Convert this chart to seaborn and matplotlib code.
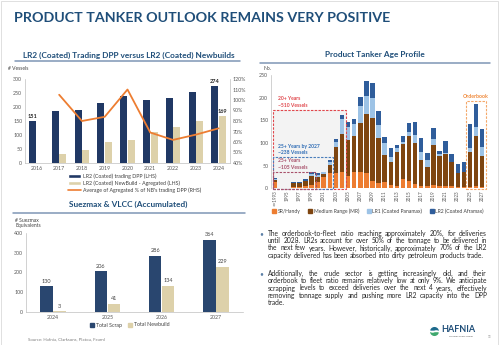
import numpy as np
import pandas as pd
import matplotlib
matplotlib.use("Agg")
import matplotlib.pyplot as plt
import matplotlib.ticker as mticker
from matplotlib.patches import Rectangle, Wedge
from matplotlib.lines import Line2D
import seaborn as sns

sns.set_theme(style="white")
plt.rcParams["font.family"] = ["Lato", "DejaVu Sans"]

# ---- LR2 trading DPP vs newbuilds ------------------------------------------
dpp_years = ["2016", "2017", "2018", "2019", "2020", "2021", "2022", "2023", "2024"]
lr2_trading_dpp = [151, 184, 189, 213, 241, 226, 232, 252, 274]
lr2_newbuild_agg = [0, 32, 48, 74, 81, 111, 129, 150, 169]
ratio_years = ["2017", "2018", "2019", "2020", "2021", "2022", "2023", "2024"]
nb_trading_dpp_pct = [105, 80, 84, 110, 69, 62, 67, 73]

# ---- Suezmax & VLCC accumulated -------------------------------------------
crude_years = ["2024", "2025", "2026", "2027"]
total_scrap = [130, 206, 286, 364]
total_newbuild = [3, 41, 134, 229]

# ---- Product tanker age profile ---------------------------------------------
build_years = ["<=1993", "1994", "1995", "1996", "1997", "1998", "1999", "2000",
               "2001", "2002", "2003", "2004", "2005", "2006", "2007", "2008",
               "2009", "2010", "2011", "2012", "2013", "2014", "2015", "2016",
               "2017", "2018", "2019", "2020", "2021", "2022", "2023", "2024",
               "2025", "2026", "2027"]
sr_handy = [14, 0, 0, 2, 2, 6, 7, 14, 24, 33, 34, 35, 28, 35, 37, 34, 16, 12,
            14, 8, 5, 20, 16, 10, 5, 4, 8, 5, 6, 5, 3, 3, 3, 5, 3]
medium_range = [5, 0, 0, 10, 10, 10, 21, 11, 8, 19, 57, 85, 78, 80, 107, 129,
                139, 98, 59, 49, 74, 77, 99, 91, 57, 44, 88, 67, 69, 52, 30, 34,
                76, 110, 68]
lr1_panamax = [1, 0, 0, 0, 0, 1, 3, 5, 3, 5, 11, 33, 30, 26, 38, 40, 45, 30,
               26, 13, 9, 6, 10, 17, 17, 14, 12, 3, 2, 0, 0, 0, 11, 20, 21]
lr2_aframax = [2, 0, 0, 1, 1, 3, 4, 3, 2, 6, 7, 9, 11, 13, 19, 33, 33, 31,
               15, 18, 8, 12, 20, 29, 33, 15, 26, 7, 27, 19, 21, 20, 52, 50, 38]
age_series = ["SR/Handy", "Medium Range (MR)", "LR1 (Coated Panamax)", "LR2 (Coated Aframax)"]

bullet_1 = ["The orderbook-to-fleet ratio reaching approximately 20%, for deliveries",
            "until 2028. LR2s account for over 50% of the tonnage to be delivered in",
            "the next few years. However, historically, approximately 70% of the LR2",
            "capacity delivered has been absorbed into dirty petroleum products trade."]
bullet_2 = ["Additionally, the crude sector is getting increasingly old, and their",
            "orderbook to fleet ratio remains relatively low at only 9%. We anticipate",
            "scrapping levels to exceed deliveries over the next 4 years, effectively",
            "removing tonnage supply and pushing more LR2 capacity into the DPP",
            "trade."]

# ---- styling ----------------------------------------------------------------
TITLE_BLUE = "#1F4E79"
RULE = "#7F96B5"
NAVY = "#203864"
NAVY2 = "#29466F"
BEIGE = "#DDD1AA"
ORANGE = "#ED7D31"
AGE_COLORS = ["#ED7D31", "#7E4510", "#9DC3E6", "#2F5D9B"]
TICK = "#595959"
SPINE = "#BFBFBF"

W, H = 500, 345
fig = plt.figure(figsize=(5, 3.45), dpi=100)
fig.patch.set_facecolor("white")
renderer = fig.canvas.get_renderer()


def fx(px):
    return px / W


def fy(py):
    return 1 - py / H


def fit_width(t, target_px):
    w = t.get_window_extent(renderer).width
    t.set_fontsize(t.get_fontsize() * target_px / w)
    return t


def rule(x0, x1, y):
    fig.add_artist(Line2D([fx(x0), fx(x1)], [fy(y), fy(y)], color=RULE, lw=1.1))


def style_axis(ax):
    for s in ax.spines.values():
        s.set_visible(False)
    ax.tick_params(labelsize=3.8, colors=TICK, length=0, pad=2)
    ax.set_xlabel("")
    ax.set_ylabel("")


def show_spines(ax, sides):
    for side in sides:
        ax.spines[side].set_visible(True)
        ax.spines[side].set_color(SPINE)
        ax.spines[side].set_linewidth(0.5)


# ---- page title -------------------------------------------------------------
t = fig.text(fx(14), fy(18), "PRODUCT TANKER OUTLOOK REMAINS VERY POSITIVE",
             ha="left", va="center", fontsize=11, weight="bold", color=TITLE_BLUE)
fit_width(t, 376)

# ---- chart 1: LR2 trading DPP vs newbuilds ----------------------------------
t = fig.text(fx(128.5), fy(55), "LR2 (Coated) Trading DPP versus LR2 (Coated) Newbuilds",
             ha="center", va="center", fontsize=6, weight="bold", color=TITLE_BLUE)
fit_width(t, 213)
rule(15, 240, 61)

lab_trd = "LR2 (Coated) trading DPP (LHS)"
lab_nb = "LR2 (Coated) NewBuild - Agregated (LHS)"
lab_pct = "Average of Agregated % of NB's trading DPP (RHS)"

ax1 = fig.add_axes([fx(25), fy(163), fx(205), (163 - 79) / H])
df1 = pd.DataFrame({"Year": dpp_years * 2,
                    "Vessels": lr2_trading_dpp + lr2_newbuild_agg,
                    "Series": [lab_trd] * len(dpp_years) + [lab_nb] * len(dpp_years)})
sns.barplot(data=df1, x="Year", y="Vessels", hue="Series", palette=[NAVY, BEIGE],
            width=0.66, gap=0.06, saturation=1, linewidth=0, legend=False, ax=ax1)
ax1.set_ylim(0, 300)
ax1.set_yticks(range(0, 301, 50))
ax1.set_xlim(-0.5, 8.5)
style_axis(ax1)
show_spines(ax1, ["left", "bottom"])
last = len(dpp_years) - 1
ax1.bar_label(ax1.containers[0],
              labels=[str(v) if i in (0, last) else "" for i, v in enumerate(lr2_trading_dpp)],
              fontsize=4, fontweight="bold", color="#262626", padding=1.5)
ax1.bar_label(ax1.containers[1],
              labels=[str(v) if i == last else "" for i, v in enumerate(lr2_newbuild_agg)],
              fontsize=4, fontweight="bold", color="#262626", padding=1.5)

ax1b = ax1.twinx()
sns.lineplot(x=[dpp_years.index(y) for y in ratio_years],
             y=np.array(nb_trading_dpp_pct) / 100.0,
             color=ORANGE, lw=1.3, ax=ax1b)
ax1b.set_ylim(0.4, 1.2)
ax1b.set_yticks(np.arange(0.4, 1.21, 0.1))
ax1b.yaxis.set_major_formatter(mticker.PercentFormatter(1.0, decimals=0))
ax1b.set_xlim(-0.5, 8.5)
style_axis(ax1b)
show_spines(ax1b, ["right"])

fig.text(fx(8), fy(69), "# Vessels", fontsize=3.6, color="#404040", va="center")

handles = [Rectangle((0, 0), 1, 1, fc=NAVY), Rectangle((0, 0), 1, 1, fc=BEIGE),
           Line2D([], [], color=ORANGE, lw=1.2)]
fig.legend(handles, [lab_trd, lab_nb, lab_pct], loc="upper left",
           bbox_to_anchor=(fx(68), fy(173)), frameon=False, fontsize=3.8,
           handlelength=2.4, handleheight=0.8, handletextpad=0.4,
           labelspacing=0.35, borderpad=0, borderaxespad=0, labelcolor="#404040")

# ---- chart 2: Suezmax & VLCC ------------------------------------------------
t = fig.text(fx(128.5), fy(204), "Suezmax & VLCC (Accumulated)",
             ha="center", va="center", fontsize=6, weight="bold", color=TITLE_BLUE)
fit_width(t, 119)
rule(13, 245, 212.5)

ax3 = fig.add_axes([fx(26), fy(312), fx(217), (312 - 233) / H])
df3 = pd.DataFrame({"Year": crude_years * 2,
                    "Ships": total_scrap + total_newbuild,
                    "Series": ["Total Scrap"] * 4 + ["Total Newbuild"] * 4})
sns.barplot(data=df3, x="Year", y="Ships", hue="Series", palette=[NAVY2, BEIGE],
            width=0.48, gap=0.05, saturation=1, linewidth=0, legend=False, ax=ax3)
ax3.set_ylim(0, 400)
ax3.set_yticks(range(0, 401, 100))
ax3.set_xlim(-0.5, 3.5)
style_axis(ax3)
show_spines(ax3, ["left", "bottom"])
for c in ax3.containers:
    ax3.bar_label(c, fontsize=4, color="#404040", padding=2)

fig.text(fx(15), fy(220), "# Suezmax", fontsize=3.6, color="#404040", va="center")
fig.text(fx(15), fy(226), "Equivalents", fontsize=3.6, color="#404040", va="center")

h3 = [Line2D([], [], marker="s", ls="", color=NAVY2, markersize=2.6),
      Line2D([], [], marker="s", ls="", color=BEIGE, markersize=2.6)]
fig.legend(h3, ["Total Scrap", "Total Newbuild"], loc="center",
           bbox_to_anchor=(fx(130), fy(325)), ncol=2, frameon=False, fontsize=3.8,
           handlelength=0.8, handletextpad=0.3, columnspacing=1.2, borderpad=0,
           labelcolor="#404040")

fig.text(fx(28), fy(339), "Source: Hafnia, Clarksons, Platou, Fearnl",
         fontsize=3.2, color="#808080", va="center")

# ---- chart 3: age profile (stacked via overlaid cumulative totals) ----------
t = fig.text(fx(375), fy(54), "Product Tanker Age Profile",
             ha="center", va="center", fontsize=6, weight="bold", color=TITLE_BLUE)
fit_width(t, 100)
rule(260, 490, 63)

ax2 = fig.add_axes([fx(271), fy(188.3), fx(216), (188.3 - 75) / H])
cum = np.array([sr_handy, medium_range, lr1_panamax, lr2_aframax]).cumsum(axis=0)
n_years = len(build_years)
df2 = pd.DataFrame({
    "Year": build_years * len(age_series),
    "Cumulative": cum.ravel(),
    "Segment": np.repeat(age_series, n_years),
})
draw_order = age_series[::-1]
sns.barplot(data=df2, x="Year", y="Cumulative", hue="Segment", order=build_years,
            hue_order=draw_order, palette=dict(zip(age_series, AGE_COLORS)),
            dodge=False, width=0.74, saturation=1, linewidth=0, legend=False,
            ax=ax2, zorder=2)
ax2.set_ylim(0, 250)
ax2.set_yticks(range(0, 251, 50))
ax2.set_xlim(-0.66, 34.8)
style_axis(ax2)
ax2.set_xticks(range(0, n_years, 2))
ax2.set_xticklabels(build_years[::2], rotation=90, fontsize=3.3)
ax2.tick_params(axis="x", pad=1.5)
show_spines(ax2, ["left"])

# highlighted age groups
dash = (0, (2.2, 1.2))
ax2.add_patch(Rectangle((-0.35, -1), 11.95, 174, fc="#F3F3F3", ec="none", zorder=0,
                        clip_on=False))
ax2.add_patch(Rectangle((-0.35, -1), 11.95, 174, fill=False, ec="#E0474C", lw=0.8,
                        ls=dash, zorder=3, clip_on=False))
ax2.add_patch(Rectangle((-0.35, -1), 9.85, 69, fill=False, ec="#4A7EBB", lw=0.8,
                        ls=dash, zorder=3, clip_on=False))
ax2.add_patch(Rectangle((-0.35, -1), 7.05, 38, fill=False, ec="#A8506A", lw=0.8,
                        ls=dash, zorder=3, clip_on=False))
ax2.add_patch(Rectangle((31.4, -1), 3.25, 194, fill=False, ec="#F4A86A", lw=0.8,
                        ls=dash, zorder=3, clip_on=False))
ax2.text(0.55, 190, "20+ Years\n~510 Vessels", color="#E0474C", fontsize=3.6,
         weight="bold", va="center", linespacing=1.35)
ax2.text(0.55, 85, "25+ Years by 2027\n~238 Vessels", color="#2E6CB5", fontsize=3.6,
         weight="bold", va="center", linespacing=1.35)
ax2.text(0.55, 54, "25+ Years\n~105 Vessels", color="#A8506A", fontsize=3.6,
         weight="bold", va="center", linespacing=1.35)
ax2.text(33.0, 203, "Orderbook", color="#F08A3C", fontsize=3.8, weight="bold",
         ha="center", va="center")
fig.text(fx(263), fy(69), "No.", fontsize=3.6, color="#404040", va="center")

h2 = [Line2D([], [], marker="s", ls="", color=c, markersize=2.4) for c in AGE_COLORS]
fig.legend(h2, age_series, loc="center", bbox_to_anchor=(fx(378), fy(211)), ncol=4,
           frameon=False, fontsize=3.6, handlelength=0.7, handletextpad=0.3,
           columnspacing=1.6, borderpad=0, labelcolor="#404040")

# ---- commentary -------------------------------------------------------------
X0, X1, LH = 268, 487, 7.35
probe = [fig.text(0, 0, ln, fontsize=10) for ln in bullet_1 + bullet_2[:-1]]
natural = max(p.get_window_extent(renderer).width for p in probe)
for p in probe:
    p.remove()
body_size = 10 * 0.985 * (X1 - X0) / natural


def justified(lines, y0):
    for i, line in enumerate(lines):
        words = line.split()
        texts = [fig.text(0, 0, w, fontsize=body_size, color="#262626", va="center")
                 for w in words]
        widths = [tt.get_window_extent(renderer).width for tt in texts]
        if i == len(lines) - 1:
            gap = body_size * 0.26 * 100 / 72
        else:
            gap = (X1 - X0 - sum(widths)) / max(len(words) - 1, 1)
        x = X0
        y = y0 + i * LH
        for tt, w in zip(texts, widths):
            tt.set_position((fx(x), fy(y)))
            x += w + gap
    fig.text(fx(259), fy(y0), "\u2022", fontsize=body_size, color="#5B7FA6", va="center")


justified(bullet_1, 233.3)
justified(bullet_2, 273.3)

# ---- logo & page furniture ----------------------------------------------------
lax = fig.add_axes([fx(429), fy(337), fx(11), 11 / H])
lax.set_xlim(-1.05, 1.05)
lax.set_ylim(-1.05, 1.05)
lax.set_aspect("equal")
lax.axis("off")
lax.add_patch(Wedge((0, 0), 1, 0, 180, fc="#1D6A8C"))
lax.add_patch(Wedge((0, 0), 1, 180, 360, fc="#3FA86E"))
wx = np.linspace(-1, 1, 50)
lax.plot(wx, 0.12 * np.sin(wx * 4.5), color="white", lw=0.8)
t = fig.text(fx(441.5), fy(329.5), "HAFNIA", fontsize=6, weight="bold",
             color=TITLE_BLUE, va="center")
fit_width(t, 34)
fig.text(fx(449), fy(336.2), "Member of BW Group", fontsize=1.7, color="#5A5A5A",
         va="center")
fig.text(fx(488), fy(337), "13", fontsize=2.2, color="#808080", va="center")

fig.add_artist(Rectangle((fx(0.5), fy(344.5)), fx(497), (344 - 0.5) / H,
                         fill=False, ec="#DADADA", lw=0.6))

fig.savefig("out.png", dpi=100, facecolor="white")
